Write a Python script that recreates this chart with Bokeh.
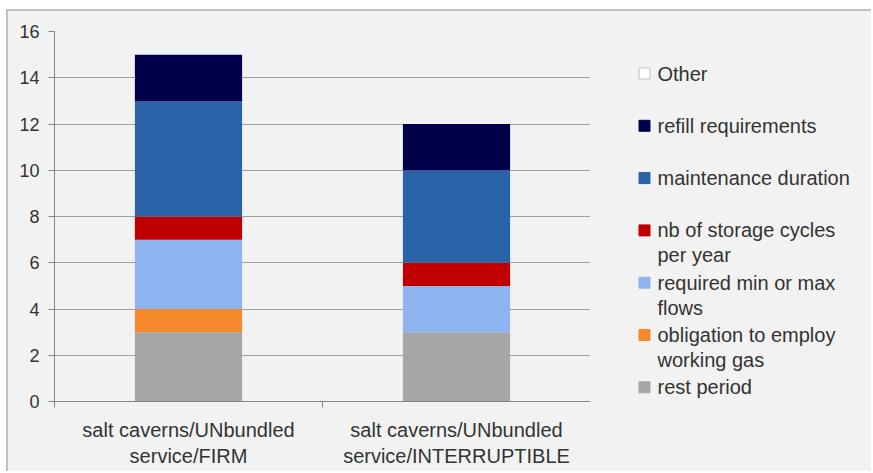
from bokeh.plotting import figure
from bokeh.models import ColumnDataSource, FixedTicker, Range1d
from bokeh.layouts import row
from bokeh.embed import file_html
from bokeh.resources import INLINE
from bokeh.core.properties import value

# ---- data ----
categories = ["salt caverns/UNbundled\nservice/FIRM",
              "salt caverns/UNbundled\nservice/INTERRUPTIBLE"]
rest_period = [3, 3]
obligation_working_gas = [1, 0]
required_flows = [3, 2]
storage_cycles = [1, 1]
maintenance_duration = [5, 4]
refill_requirements = [2, 2]
other = [0, 0]

series_keys = ["rest", "oblig", "flows", "cycles", "maint", "refill", "other"]
series_labels = ["rest period", "obligation to employ\nworking gas",
                 "required min or max\nflows", "nb of storage cycles\nper year",
                 "maintenance duration", "refill requirements", "Other"]
series_colors = ["#a6a6a6", "#f5882a", "#8db4ef", "#c00000", "#2a63a8", "#00004a", "#ffffff"]
y_ticks = [0, 2, 4, 6, 8, 10, 12, 14, 16]

FONT = "Liberation Sans"
FSIZE = "20px"
TXT = "#333333"
BG = "#f2f2f2"
AX = "#868686"

xpos = [i + 0.5 for i in range(len(categories))]
src = ColumnDataSource(dict(x=xpos, rest=rest_period, oblig=obligation_working_gas,
                            flows=required_flows, cycles=storage_cycles,
                            maint=maintenance_duration, refill=refill_requirements,
                            other=other))

H = 460
FT, FH = 20, 370
p = figure(width=582, height=H, x_range=Range1d(0, len(categories)),
           y_range=Range1d(0, 16), output_backend="svg", toolbar_location=None,
           min_border_left=46, min_border_right=0, min_border_top=FT,
           min_border_bottom=H - FT - FH, background_fill_color=BG,
           border_fill_color=BG, outline_line_color=None)
p.title.visible = False

p.vbar_stack(series_keys, x="x", width=0.4, fill_color=series_colors,
             line_color=None, source=src)

# x axis: labels at centres, ticks at category boundaries
p.xaxis.ticker = FixedTicker(ticks=xpos, minor_ticks=list(range(len(categories) + 1)))
p.xaxis.major_label_overrides = {x: c for x, c in zip(xpos, categories)}
p.xaxis.major_tick_out = 0
p.xaxis.major_tick_in = 0
p.xaxis.minor_tick_out = 6
p.xaxis.minor_tick_in = 0
p.xaxis.minor_tick_line_color = AX
p.xaxis.major_label_standoff = 11
p.xaxis.major_label_text_font_size = FSIZE
p.xgrid.visible = False

p.yaxis.ticker = FixedTicker(ticks=y_ticks, minor_ticks=[])
p.yaxis.major_tick_out = 6
p.yaxis.major_tick_in = 0
p.yaxis.major_tick_line_color = AX
p.yaxis.major_label_standoff = 9
p.yaxis.major_label_text_font_size = "18px"
p.ygrid.ticker = FixedTicker(ticks=y_ticks)
p.ygrid.grid_line_color = "#a0a0a0"

for ax in (p.xaxis, p.yaxis):
    ax.axis_line_color = AX
    ax.major_label_text_font = FONT
    ax.major_label_text_color = TXT

# ---- legend panel (its frame is aligned with the plot frame: canvas y FT..FT+FH) ----
LW = 281
p2 = figure(width=LW, height=H, x_range=Range1d(0, LW), y_range=Range1d(FT + FH, FT),
            output_backend="svg", toolbar_location=None, x_axis_type=None,
            y_axis_type=None, min_border=0, min_border_top=0, min_border_bottom=0,
            min_border_left=0, min_border_right=0, background_fill_color=BG,
            border_fill_color=BG, outline_line_color=None)
p2.title.visible = False

leg_top, leg_step, line_step = 62, 52.3, 25
sq_x, sq_y, sq_fill, sq_line = [], [], [], []
tx, ty, tt = [], [], []
for k, idx in enumerate(reversed(range(len(series_keys)))):
    y0 = leg_top + k * leg_step
    sq_x.append(54)
    sq_y.append(y0)
    sq_fill.append(series_colors[idx])
    sq_line.append("#bfbfbf" if series_colors[idx] == "#ffffff" else series_colors[idx])
    for j, line in enumerate(series_labels[idx].split("\n")):
        tx.append(67)
        ty.append(y0 + j * line_step)
        tt.append(line)

p2.scatter(x=sq_x, y=sq_y, marker="square", size=11, fill_color=sq_fill, line_color=sq_line)
p2.text(x=tx, y=ty, text=tt, text_font=value(FONT), text_font_size=FSIZE,
        text_baseline="middle", text_align="left", text_color=TXT)

layout = row(p, p2, styles={"margin-left": "6px", "margin-top": "9px",
                            "border-left": "2px solid #c0c0c0",
                            "border-top": "2px solid #c0c0c0",
                            "background-color": BG})

open("out.html", "w").write(file_html(layout, INLINE))
